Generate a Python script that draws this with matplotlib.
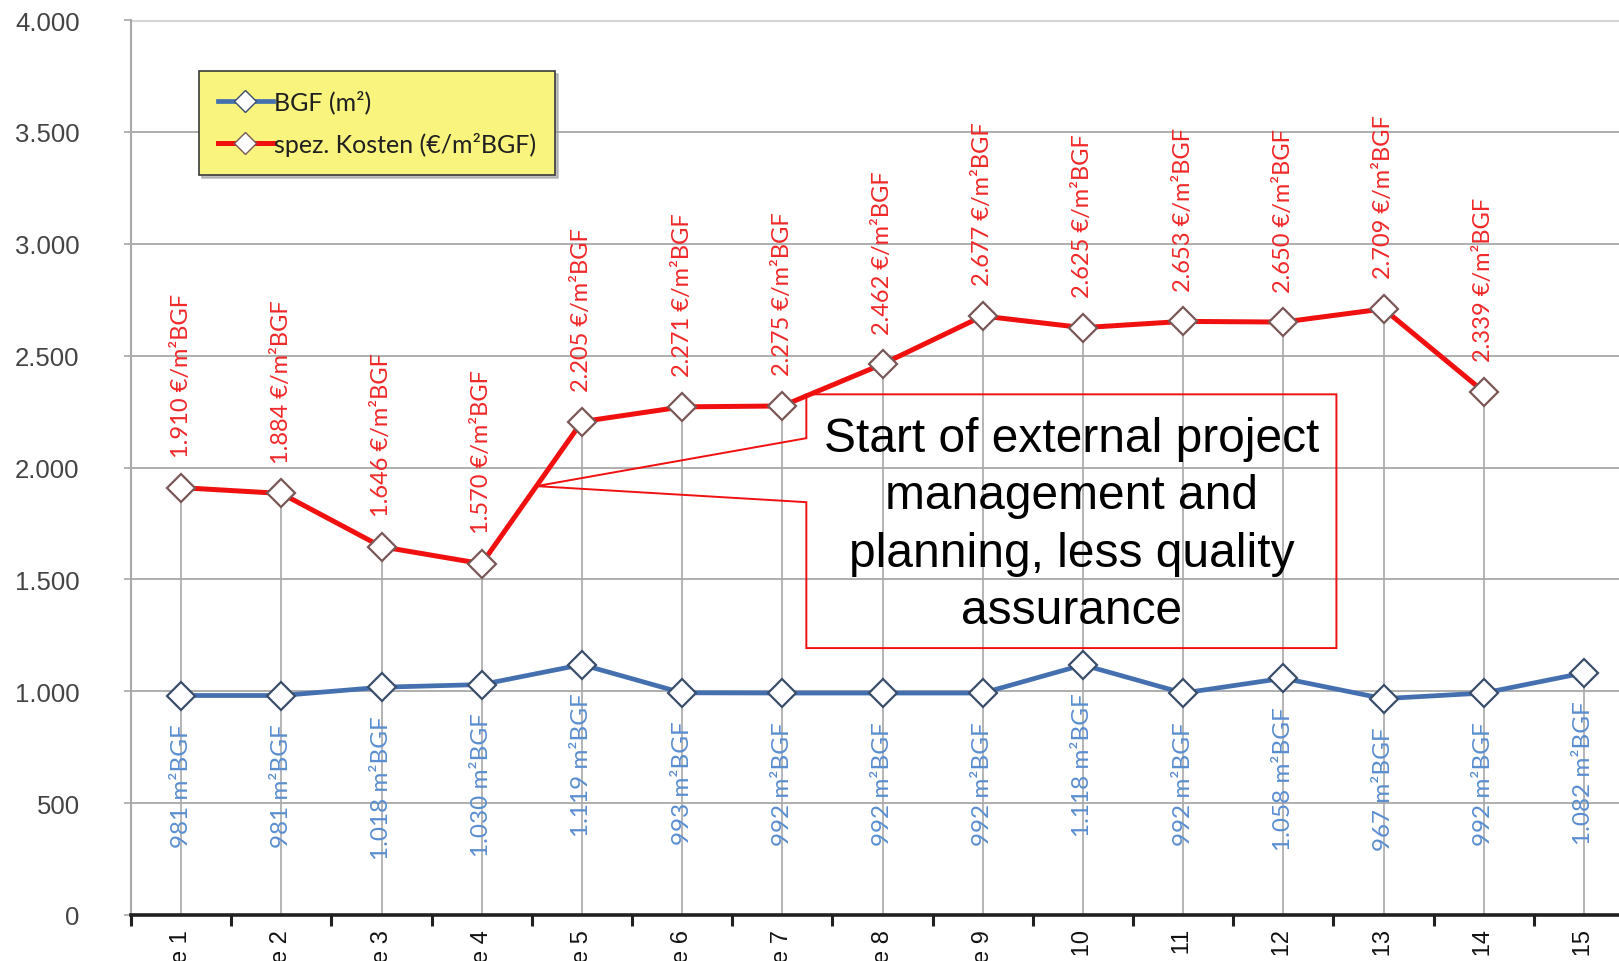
import matplotlib
matplotlib.use("Agg")
import matplotlib.pyplot as plt
from matplotlib.lines import Line2D
from matplotlib.patches import Polygon
from matplotlib.ticker import FuncFormatter, FixedLocator

# Buildings compared
buildings = ["Gebäude 1", "Gebäude 2", "Gebäude 3", "Gebäude 4", "Gebäude 5",
             "Gebäude 6", "Gebäude 7", "Gebäude 8", "Gebäude 9", "Gebäude 10",
             "Gebäude 11", "Gebäude 12", "Gebäude 13", "Gebäude 14", "Gebäude 15"]

# Gross floor area per building (m² BGF)
bgf = [981, 981, 1018, 1030, 1119, 993, 992, 992, 992, 1118, 992, 1058, 967, 992, 1082]

# Specific costs per building (€/m² BGF); building 15 has no cost figure
costs = [1910, 1884, 1646, 1570, 2205, 2271, 2275, 2462, 2677, 2625, 2653, 2650, 2709, 2339]

y_ticks = [0, 500, 1000, 1500, 2000, 2500, 3000, 3500, 4000]

note = "Start of external project\nmanagement and\nplanning, less quality\nassurance"


def de(n):
    return f"{n:,}".replace(",", ".")


RED = "#F01010"
BLUE = "#4470B0"
RED_TXT = "#F02828"
BLUE_TXT = "#5A8ED0"
GRID = "#A8A8A8"

W, H = 1619, 962
fig = plt.figure(figsize=(W / 100, H / 100), dpi=100)
fig.patch.set_facecolor("white")

x0_px, y0_px, ytop_px = 131, 916, 21
n = len(buildings)
ax = fig.add_axes([x0_px / W, (H - y0_px) / H, n * 100.2 / W, (y0_px - ytop_px) / H])
ax.set_xlim(0.5, n + 0.5)
ax.set_ylim(0, 4000)
ax.set_facecolor("none")

xs = list(range(1, n + 1))

# horizontal grid
for yv in y_ticks[1:]:
    ax.axhline(yv, color="#D6D6D6" if yv == 4000 else GRID,
               lw=3.0 if yv == 4000 else 1.3, zorder=1)

# drop lines from the highest point of each building to the axis
for i, x in enumerate(xs):
    top = max(bgf[i], costs[i] if i < len(costs) else 0)
    ax.vlines(x, 0, top, color=GRID, lw=1.2, zorder=1)

# series
ax.plot(xs, bgf, color=BLUE, lw=3.4, marker="D", markersize=14,
        markerfacecolor="white", markeredgecolor="#3A4E6A", markeredgewidth=1.6,
        zorder=4, solid_joinstyle="round")
ax.plot(xs[:len(costs)], costs, color=RED, lw=3.6, marker="D", markersize=14,
        markerfacecolor="white", markeredgecolor="#7A5858", markeredgewidth=1.6,
        zorder=5, solid_joinstyle="round")

# value labels
for x, v in zip(xs, costs):
    ax.annotate(f"{de(v)} €/m²BGF", (x, v), xytext=(0, 22), textcoords="offset points",
                rotation=90, ha="center", va="bottom", color=RED_TXT,
                fontsize=17, family="Lato", zorder=6)
for x, v in zip(xs, bgf):
    ax.annotate(f"{de(v)} m²BGF", (x, v), xytext=(0, -20), textcoords="offset points",
                rotation=90, ha="center", va="top", color=BLUE_TXT,
                fontsize=17.5, family="Lato", zorder=6)

# axes styling
for s in ("top", "right"):
    ax.spines[s].set_visible(False)
ax.spines["left"].set_color(GRID)
ax.spines["left"].set_linewidth(1.5)
ax.spines["bottom"].set_color("#202020")
ax.spines["bottom"].set_linewidth(2.6)
ax.spines["bottom"].set_zorder(7)

ax.yaxis.set_major_locator(FixedLocator(y_ticks))
ax.yaxis.set_major_formatter(FuncFormatter(lambda v, p: de(int(v))))
ax.tick_params(axis="y", length=5, width=1.2, color=GRID, pad=32,
               labelsize=18.5, labelcolor="#444444")
for t in ax.get_yticklabels():
    t.set_family("Liberation Sans")

ax.set_xticks([i + 0.5 for i in range(0, n + 1)])
ax.set_xticklabels([])
ax.tick_params(axis="x", which="major", length=8, width=2.2, color="#202020")
ax.set_xticks(xs, minor=True)
ax.set_xticklabels(buildings, minor=True, rotation=90, fontsize=17,
                   family="Liberation Sans", color="#111111")
ax.tick_params(axis="x", which="minor", length=0, pad=10)

# legend
handles = [
    Line2D([], [], color=BLUE, lw=3.4, marker="D", markersize=11,
           markerfacecolor="white", markeredgecolor="#3A4E6A"),
    Line2D([], [], color=RED, lw=3.6, marker="D", markersize=11,
           markerfacecolor="white", markeredgecolor="#7A5858"),
]
leg = fig.legend(handles, ["BGF (m²)", "spez. Kosten (€/m²BGF)"],
                 loc="upper left", bbox_to_anchor=(199 / W, 1 - 72 / H),
                 borderaxespad=0, frameon=True, fancybox=False,
                 facecolor="#F9F47E", edgecolor="#3A3A3A", framealpha=1,
                 shadow={"color": "#9A9A9A", "alpha": 0.6},
                 prop={"family": "Lato", "size": 18},
                 handlelength=2.2, handletextpad=0.05, labelspacing=0.75,
                 borderpad=0.75)
leg.get_frame().set_linewidth(1.2)
for t in leg.get_texts():
    t.set_color("#202020")

# callout box pointing at the jump between building 4 and 5
t = 0.546
tip_x = 4 + t
tip_y = costs[3] + t * (costs[4] - costs[3])
box_l, box_r, box_t, box_b = 7.24, 12.53, 2327, 1193
callout = Polygon([(tip_x, tip_y), (box_l, 2131), (box_l, box_t), (box_r, box_t),
                   (box_r, box_b), (box_l, box_b), (box_l, 1845)],
                  closed=True, fill=False, edgecolor="#F01010", lw=1.4, zorder=6)
ax.add_patch(callout)
ax.text((box_l + box_r) / 2, 1745, note, ha="center", va="center",
        fontsize=34.5, family="Liberation Sans", color="black", linespacing=1.36,
        zorder=7)

fig.savefig("out.png", dpi=100)
